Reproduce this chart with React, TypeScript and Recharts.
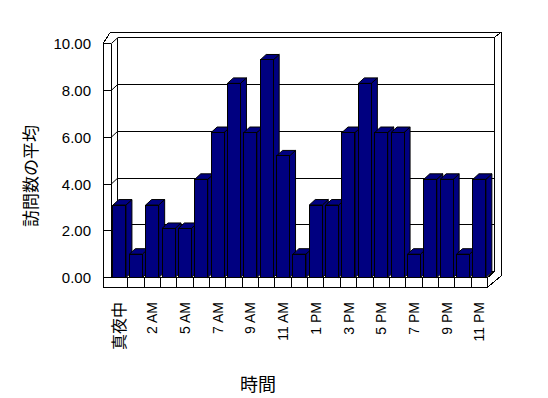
import { BarChart, Bar, XAxis, YAxis, CartesianGrid, Customized } from 'recharts'

const hours = [
  '真夜中', '1 AM', '2 AM', '3 AM', '5 AM', '6 AM', '7 AM', '8 AM', '9 AM', '10 AM', '11 AM', '12 PM',
  '1 PM', '2 PM', '3 PM', '4 PM', '5 PM', '6 PM', '7 PM', '8 PM', '9 PM', '10 PM', '11 PM',
]
const visits = [
  3.1, 1.0, 3.1, 2.1, 2.1, 4.2, 6.2, 8.3, 6.2, 9.3, 5.2, 1.0,
  3.1, 3.1, 6.2, 8.3, 6.2, 6.2, 1.0, 4.2, 4.2, 1.0, 4.2,
]
const yTicks = [0, 2, 4, 6, 8, 10]

const data = hours.map((hour, i) => ({ hour, visits: visits[i] }))

const FONT = "'Liberation Sans', 'Noto Sans CJK JP', sans-serif"
const NAVY = '#000080'

// plot box (svg coords; page adds the 8px body margin)
const MARGIN = { top: 35.6, right: 60.4, bottom: 60.4, left: 8.3 }
const Y_AXIS_W = 95
const X_AXIS_H = 60
const WIDTH = 540
const HEIGHT = 390
const L = MARGIN.left + Y_AXIS_W
const T = MARGIN.top
const R = WIDTH - MARGIN.right
const B = HEIGHT - MARGIN.bottom - X_AXIS_H

// 3d depths
const WALL_DX = 6.5
const WALL_DY = -6
const BAR_DX = 6
const BAR_DY = -5.5
const FLOOR_H = 9.5
const SIDE_W = 8.3
const OUTER_DX = 7.5
const OUTER_DY = -5.6

function seg(x1: number, y1: number, x2: number, y2: number, key: string) {
  return <line key={key} x1={x1} y1={y1} x2={x2} y2={y2} />
}

function Frame() {
  const band = (R - L) / hours.length
  const ox = R + WALL_DX + OUTER_DX
  const oy = T + WALL_DY + OUTER_DY
  const parts = [
    // back wall sides
    seg(L + WALL_DX, T + WALL_DY, L + WALL_DX, B + WALL_DY, 'bl'),
    seg(R + WALL_DX, T + WALL_DY, R + WALL_DX, B + WALL_DY, 'br'),
    // inner front edge of side wall, floor top edge
    seg(L, T, L, B, 'fl'),
    seg(L, B, R, B, 'fb'),
    seg(R, B, R + WALL_DX, B + WALL_DY, 'fr'),
    // floor front face
    seg(L - SIDE_W, B + FLOOR_H, R, B + FLOOR_H, 'ff'),
    seg(R, B, R, B + FLOOR_H, 'ffr'),
    // side wall front face
    seg(L - SIDE_W, T, L - SIDE_W, B + FLOOR_H, 'sw'),
    seg(L - SIDE_W, T, L, T, 'swt'),
    // outer thickness
    seg(L - SIDE_W, T, L - SIDE_W + OUTER_DX, oy, 'o1'),
    seg(L - SIDE_W + OUTER_DX, oy, ox, oy, 'o2'),
    seg(R + WALL_DX, T + WALL_DY, ox, oy, 'o3'),
    seg(ox, oy, ox, B - 2, 'o4'),
    seg(R, B + FLOOR_H, ox, B - 2, 'o5'),
  ]
  for (let i = 1; i < hours.length; i++) {
    const x = L + band * i
    parts.push(seg(x, B, x, B + FLOOR_H, `d${i}`))
  }
  return <g>{parts}</g>
}

function WallLine(props: any) {
  const { x1, x2, y1, index } = props
  return (
    <g stroke="#000" strokeWidth={1} shapeRendering="crispEdges" fill="none">
      {index === 0 && <Frame />}
      <line x1={x1 + WALL_DX} y1={y1 + WALL_DY} x2={x2 + WALL_DX} y2={y1 + WALL_DY} />
      <line x1={x1} y1={y1} x2={x1 + WALL_DX} y2={y1 + WALL_DY} shapeRendering="auto" />
      <line x1={x1 - SIDE_W} y1={y1} x2={x1} y2={y1} />
    </g>
  )
}

function Bar3D(props: any) {
  const { x, y, width, height, fill } = props
  if (x == null || height == null || height <= 0) return null
  const top = `M${x},${y} L${x + BAR_DX},${y + BAR_DY} L${x + width + BAR_DX},${y + BAR_DY} L${x + width},${y} Z`
  const side = `M${x + width},${y} L${x + width + BAR_DX},${y + BAR_DY} L${x + width + BAR_DX},${y + height + BAR_DY} L${x + width},${y + height} Z`
  return (
    <g stroke="#000" strokeWidth={1}>
      <path d={side} fill={fill} />
      <path d={top} fill={fill} />
      <rect x={x} y={y} width={width} height={height} fill={fill} shapeRendering="crispEdges" />
    </g>
  )
}

function YTick(props: any) {
  const { y, payload } = props
  return (
    <text x={83} y={y} textAnchor="end" dominantBaseline="central" fontSize={15} fontFamily={FONT} fill="#000">
      {Number(payload.value).toFixed(2)}
    </text>
  )
}

function XTick(props: any) {
  const { x, payload } = props
  const top = 294
  const cjk = /[^\x00-\x7f]/.test(payload.value)
  return (
    <text
      x={x}
      y={top}
      transform={`rotate(-90, ${x}, ${top})`}
      textAnchor="end"
      dominantBaseline="central"
      fontSize={cjk ? 16 : 14}
      fontFamily={FONT}
      fill="#000"
    >
      {payload.value}
    </text>
  )
}

function Titles() {
  return (
    <g fontFamily={FONT} fill="#000">
      <text x={23} y={168} transform="rotate(-90, 23, 168)" textAnchor="middle" dominantBaseline="central" fontSize={17}>
        訪問数の平均
      </text>
      <text x={250} y={377} textAnchor="middle" dominantBaseline="central" fontSize={18}>
        時間
      </text>
    </g>
  )
}

export default function App() {
  return (
    <div style={{ width: WIDTH, height: HEIGHT, background: '#fff' }}>
      <BarChart width={WIDTH} height={HEIGHT} data={data} margin={MARGIN} barCategoryGap="10%">
        <CartesianGrid horizontal={WallLine} vertical={false} />
        <XAxis
          dataKey="hour"
          interval={1}
          axisLine={false}
          tickLine={false}
          height={X_AXIS_H}
          tick={<XTick />}
        />
        <YAxis
          domain={[0, 10]}
          ticks={yTicks}
          axisLine={false}
          tickLine={false}
          width={Y_AXIS_W}
          tick={<YTick />}
        />
        <Bar dataKey="visits" fill={NAVY} shape={<Bar3D />} isAnimationActive={false} />
        <Customized component={<Titles />} />
      </BarChart>
    </div>
  )
}
